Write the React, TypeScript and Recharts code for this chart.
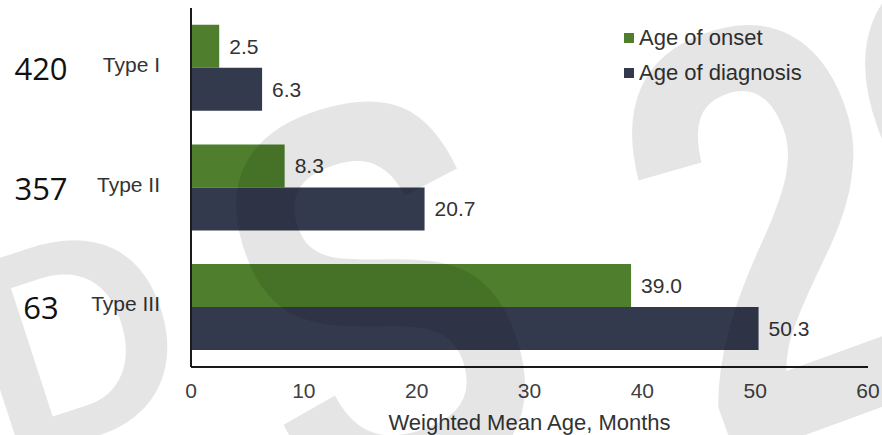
import { BarChart, Bar, XAxis, YAxis, LabelList, Label } from 'recharts'

const categories = ['Type I', 'Type II', 'Type III']
const patientCounts = [420, 357, 63]
const ageOfOnset = [2.5, 8.3, 39.0]
const ageOfDiagnosis = [6.3, 20.7, 50.3]
const xTicks = [0, 10, 20, 30, 40, 50, 60]

const GREEN = '#4f7f2d'
const NAVY = '#343a4e'
const FONT = '"Liberation Sans", Arial, sans-serif'

const data = categories.map((type, i) => ({
  type,
  patients: patientCounts[i],
  onset: ageOfOnset[i],
  diagnosis: ageOfDiagnosis[i],
}))

const legendItems = [
  { label: 'Age of onset', color: GREEN },
  { label: 'Age of diagnosis', color: NAVY },
]

// big tilted watermark glyphs: centre point, font size, squeeze, tilt
const watermark = [
  { ch: 'D', cx: 72, cy: 335, size: 290, sx: 1, rot: -18 },
  { ch: 'S', cx: 375, cy: 292, size: 560, sx: 0.74, rot: -17 },
  { ch: '2', cx: 773, cy: 222, size: 590, sx: 0.8, rot: -20 },
  { ch: '9', cx: 1008, cy: 150, size: 590, sx: 0.8, rot: -20 },
]

// category label plus the patient count drawn further left
function TypeTick({ x, y, payload, index }: any) {
  return (
    <g>
      <text x={x - 119} y={y + 12} textAnchor="middle" fontFamily='"Open Sans", sans-serif' fontSize={31} fill="#111">
        {patientCounts[index]}
      </text>
      <text x={x} y={y + 4} textAnchor="end" fontFamily={FONT} fontSize={21} fill="#333">
        {payload.value}
      </text>
    </g>
  )
}

export default function App() {
  return (
    <div style={{ position: 'absolute', left: 0, top: 0, width: 882, height: 435, background: '#fff' }}>
      <BarChart width={882} height={435} layout="vertical" data={data}
                margin={{ top: 8, right: 14, bottom: 0, left: 0 }}
                barCategoryGap="14%" barGap={0}>
        <XAxis type="number" domain={[0, 60]} ticks={xTicks} height={68}
               tickLine={false} tickSize={0} tickMargin={16}
               axisLine={{ stroke: '#1a1a1a', strokeWidth: 2 }}
               tick={{ fill: '#404040', fontSize: 21, fontFamily: FONT }}>
          <Label value="Weighted Mean Age, Months" position="insideBottom" offset={5}
                 style={{ fill: '#333', fontSize: 22, fontFamily: FONT }} />
        </XAxis>
        <YAxis type="category" dataKey="type" width={191}
               tickLine={false} tickSize={0} tickMargin={31}
               axisLine={{ stroke: '#1a1a1a', strokeWidth: 2 }}
               tick={<TypeTick />} />
        <Bar dataKey="onset" name="Age of onset" fill={GREEN} isAnimationActive={false}>
          <LabelList dataKey="onset" position="right" offset={10}
                     formatter={(v: any) => Number(v).toFixed(1)}
                     style={{ fill: '#333', fontSize: 21, fontFamily: FONT }} />
        </Bar>
        <Bar dataKey="diagnosis" name="Age of diagnosis" fill={NAVY} isAnimationActive={false}>
          <LabelList dataKey="diagnosis" position="right" offset={10}
                     formatter={(v: any) => Number(v).toFixed(1)}
                     style={{ fill: '#333', fontSize: 21, fontFamily: FONT }} />
        </Bar>
      </BarChart>
      <div style={{ position: 'absolute', left: 624, top: 20, fontFamily: FONT, fontSize: 22, color: '#333' }}>
        {legendItems.map(it => (
          <div key={it.label} style={{ display: 'flex', alignItems: 'center', height: 35 }}>
            <span style={{ width: 10, height: 10, background: it.color, marginRight: 5, display: 'inline-block' }} />
            <span>{it.label}</span>
          </div>
        ))}
      </div>
      {/* translucent watermark laid over the whole chart */}
      <svg width={882} height={435} style={{ position: 'absolute', left: 0, top: 0, pointerEvents: 'none' }}>
        {watermark.map(w => (
          <text key={w.ch} x={0} y={0.358 * w.size} textAnchor="middle"
                transform={`translate(${w.cx} ${w.cy}) rotate(${w.rot}) scale(${w.sx} 1)`}
                fontFamily={FONT} fontWeight="bold" fontSize={w.size} fill="#000" fillOpacity={0.1}>
            {w.ch}
          </text>
        ))}
      </svg>
    </div>
  )
}
